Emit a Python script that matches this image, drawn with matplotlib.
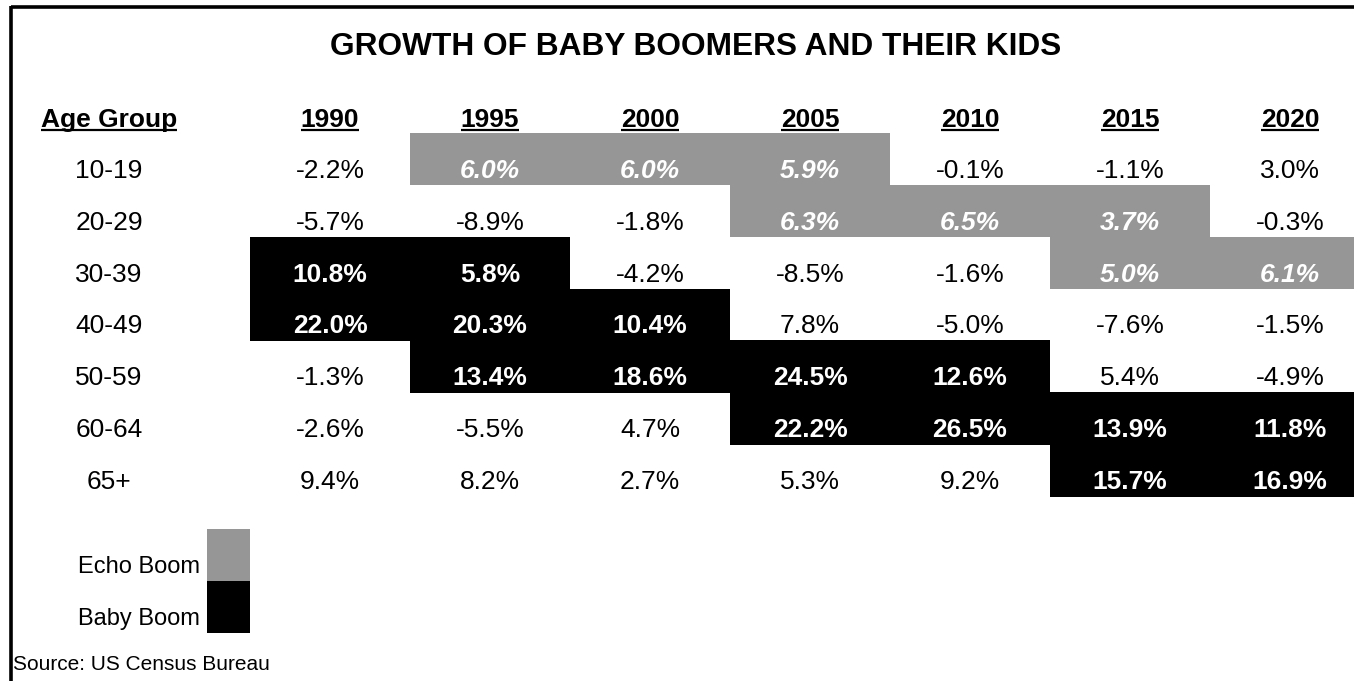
import matplotlib
matplotlib.use('Agg')
from matplotlib import pyplot as plt
from matplotlib.patches import Rectangle

plt.rcParams['font.family'] = ['Liberation Sans', 'DejaVu Sans']

title = 'GROWTH OF BABY BOOMERS AND THEIR KIDS'
age_groups = ['10-19', '20-29', '30-39', '40-49', '50-59', '60-64', '65+']
years = ['1990', '1995', '2000', '2005', '2010', '2015', '2020']

# growth (%) per year column, rows follow age_groups
g1990 = [-2.2, -5.7, 10.8, 22.0, -1.3, -2.6, 9.4]
g1995 = [6.0, -8.9, 5.8, 20.3, 13.4, -5.5, 8.2]
g2000 = [6.0, -1.8, -4.2, 10.4, 18.6, 4.7, 2.7]
g2005 = [5.9, 6.3, -8.5, 7.8, 24.5, 22.2, 5.3]
g2010 = [-0.1, 6.5, -1.6, -5.0, 12.6, 26.5, 9.2]
g2015 = [-1.1, 3.7, 5.0, -7.6, 5.4, 13.9, 15.7]
g2020 = [3.0, -0.3, 6.1, -1.5, -4.9, 11.8, 16.9]
growth = [g1990, g1995, g2000, g2005, g2010, g2015, g2020]

# E = echo boom, B = baby boom, '' = plain
h1990 = ['', '', 'B', 'B', '', '', '']
h1995 = ['E', '', 'B', 'B', 'B', '', '']
h2000 = ['E', '', '', 'B', 'B', '', '']
h2005 = ['E', 'E', '', '', 'B', 'B', '']
h2010 = ['', 'E', '', '', 'B', 'B', '']
h2015 = ['', 'E', 'E', '', '', 'B', 'B']
h2020 = ['', '', 'E', '', '', 'B', 'B']
highlight = [h1990, h1995, h2000, h2005, h2010, h2015, h2020]

legend_labels = ['Echo Boom', 'Baby Boom']
source = 'Source: US Census Bureau'

ECHO = '#969696'
BOOM = '#000000'

# layout in pixel units
W, H = 1354, 681
col0 = 250      # left edge of first year column
col_w = 160
row0 = 133      # top of first data row
row_h = 51.86
age_x = 109
fs = 19

fig = plt.figure(figsize=(W / 100, H / 100), dpi=100)
ax = fig.add_axes([0, 0, 1, 1])
ax.set_xlim(0, W)
ax.set_ylim(H, 0)
ax.axis('off')

# frame: top and left only
ax.plot([11, W], [7, 7], color='black', lw=2.6, solid_capstyle='butt')
ax.plot([11, 11], [5.5, H], color='black', lw=2.6, solid_capstyle='butt')

ax.text(696, 47, title, ha='center', va='center', fontsize=22.8, fontweight='bold')

headers = []
headers.append(ax.text(age_x, 127, 'Age Group', ha='center', va='baseline',
                       fontsize=fs, fontweight='bold'))
for j, yr in enumerate(years):
    xc = col0 + col_w * (j + 0.5)
    headers.append(ax.text(xc, 127, yr, ha='center', va='baseline',
                           fontsize=fs, fontweight='bold'))

for i, age in enumerate(age_groups):
    top = row0 + row_h * i
    base = top + row_h - 7
    ax.text(age_x, base, age, ha='center', va='baseline', fontsize=fs)
    for j in range(len(years)):
        left = col0 + col_w * j
        kind = highlight[j][i]
        val = '%.1f%%' % growth[j][i]
        if kind == 'E':
            ax.add_patch(Rectangle((left, top), col_w, row_h + 0.5, facecolor=ECHO,
                                   edgecolor='none', antialiased=False))
            ax.text(left + col_w / 2, base, val, ha='center', va='baseline',
                    fontsize=fs, fontweight='bold', style='italic', color='white')
        elif kind == 'B':
            ax.add_patch(Rectangle((left, top), col_w, row_h + 0.5, facecolor=BOOM,
                                   edgecolor='none', antialiased=False))
            ax.text(left + col_w / 2, base, val, ha='center', va='baseline',
                    fontsize=fs, fontweight='bold', color='white')
        else:
            ax.text(left + col_w / 2, base, val, ha='center', va='baseline',
                    fontsize=fs, color='black')

# underline the header labels
fig.canvas.draw()
inv = ax.transData.inverted()
for t in headers:
    bb = t.get_window_extent()
    (x0, _), (x1, _) = inv.transform([(bb.x0, bb.y0), (bb.x1, bb.y1)])
    ax.plot([x0, x1], [130, 130], color='black', lw=1.6, solid_capstyle='butt')

# legend swatches
for k, (lab, colr) in enumerate(zip(legend_labels, [ECHO, BOOM])):
    top = 529 + 52 * k
    ax.add_patch(Rectangle((207, top), 43, 52, facecolor=colr, edgecolor='none',
                           antialiased=False))
    ax.text(200, top + 44, lab, ha='right', va='baseline', fontsize=17)

ax.text(13, 670, source, ha='left', va='baseline', fontsize=15)

fig.savefig('out.png', dpi=100, facecolor='white')
